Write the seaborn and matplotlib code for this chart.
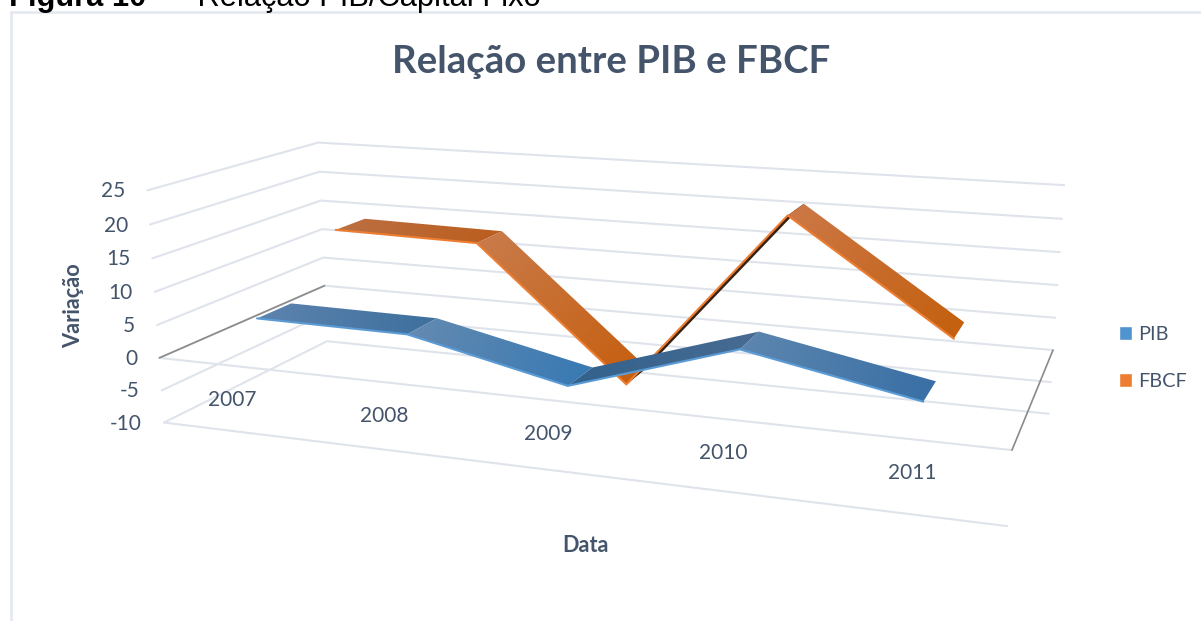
import numpy as np
import pandas as pd
import matplotlib
matplotlib.use("Agg")
import matplotlib.pyplot as plt
from matplotlib.colors import to_rgb
from matplotlib.patches import Patch, Polygon
import seaborn as sns

# ---- data -------------------------------------------------------------
years = ["2007", "2008", "2009", "2010", "2011"]
pib = [5.3, 5.1, -0.1, 7.5, 2.8]
fbcf = [14.0, 13.6, -6.8, 21.2, 5.0]
value_ticks = [25, 20, 15, 10, 5, 0, -5, -10]

chart_title = "Relação entre PIB e FBCF"
x_title = "Data"
y_title = "Variação"
caption_bold = "Figura 10"
caption_rest = "–  Relação PIB/Capital Fixo"

# ---- 3-D scale: (category 0-1, value, depth 0-1) -> figure pixels -------
CAMERA = np.array([
    [688.0268665837608, -0.6244615987384639, 223.42311733129748, 159.41503137636877],
    [19.02832024192563, -6.896975893082258, -20.88877348387214, 357.8799755782782],
    [-0.16259905850267609, -0.0010155686715586465, 0.1795751290867944, 1.0],
])


def project(cat, value, depth):
    h = CAMERA @ np.array([cat, value, depth, 1.0])
    return h[0] / h[2], h[1] / h[2]


def cat_pos(i):
    return (i + 0.5) / len(years)


# ---- style ------------------------------------------------------------
sns.set_theme(style="white")
plt.rcParams["font.family"] = ["Lato", "DejaVu Sans"]
TEXT = "#44546a"
GRID = "#dfe3eb"
AXIS = "#8a8a8a"
W, H = 1201, 621

fig = plt.figure(figsize=(W / 100, H / 100), dpi=100, facecolor="white")
ax = fig.add_axes([0, 0, 1, 1])
ax.set_axis_off()

# frame of the embedded chart and the cropped caption above it
frame_x = [11, 11, 1201]
frame_y = [621, 12, 12]
ax.plot(frame_x, frame_y, color="#e3e6ef", lw=1.8, zorder=1, solid_joinstyle="miter")
ax.text(9, 6, caption_bold, family="Liberation Sans", weight="bold", fontsize=22.2,
        color="black", va="baseline", ha="left", clip_on=True)
ax.text(541, 6, caption_rest, family="Liberation Sans", fontsize=22.2,
        color="black", va="baseline", ha="right", clip_on=True)

# walls
for v in value_ticks:
    a, b, c = project(0, v, 0), project(0, v, 1), project(1, v, 1)
    ax.plot([a[0], b[0], c[0]], [a[1], b[1], c[1]], color=GRID, lw=1.5, zorder=2)
for v in (0, -10):
    a, b = project(0, v, 0), project(1, v, 0)
    ax.plot([a[0], b[0]], [a[1], b[1]], color=GRID, lw=1.5, zorder=2)
for cat in (0, 1):
    a, b = project(cat, 0, 0), project(cat, 0, 1)
    ax.plot([a[0], b[0]], [a[1], b[1]], color=AXIS, lw=1.2, zorder=3)

# ribbons: one shaded quad per segment
PIB_DEPTH = (0.15, 0.35)
FBCF_DEPTH = (0.65, 0.85)
PIB_SHADES = [("#5a82ad", "#40719f"), ("#6189b1", "#3a7ab3"),
              ("#33628d", "#476b92"), ("#5b85ae", "#3a70a6")]
FBCF_SHADES = [("#bb6e40", "#bb5f20"), ("#c97a48", "#c65f10"),
               ("#3a2212", "#3a2212"), ("#cc7745", "#c4600f")]


def ribbon(values, depth, shades, z):
    for i in range(len(values) - 1):
        f0 = project(cat_pos(i), values[i], depth[0])
        f1 = project(cat_pos(i + 1), values[i + 1], depth[0])
        b1 = project(cat_pos(i + 1), values[i + 1], depth[1])
        b0 = project(cat_pos(i), values[i], depth[1])
        quad = np.array([f0, f1, b1, b0])
        x0, y0 = quad.min(axis=0)
        x1, y1 = quad.max(axis=0)
        x0, y0, x1, y1 = np.floor(x0), np.floor(y0), np.ceil(x1), np.ceil(y1)
        xs, ys = np.meshgrid(np.linspace(x0, x1, 80), np.linspace(y0, y1, 80))
        start = (np.array(f0) + np.array(b0)) / 2
        end = (np.array(f1) + np.array(b1)) / 2
        d = end - start
        t = np.clip(((xs - start[0]) * d[0] + (ys - start[1]) * d[1]) / (d @ d), 0, 1)
        c0, c1 = np.array(to_rgb(shades[i][0])), np.array(to_rgb(shades[i][1]))
        img = c0[None, None, :] * (1 - t[..., None]) + c1[None, None, :] * t[..., None]
        im = ax.imshow(img, extent=(x0, x1, y1, y0), aspect="auto",
                       interpolation="bilinear", zorder=z)
        im.set_clip_path(Polygon(quad, closed=True, transform=ax.transData))


ribbon(fbcf, FBCF_DEPTH, FBCF_SHADES, 4)
ribbon(pib, PIB_DEPTH, PIB_SHADES, 6)

# bright front edges of the ribbons, on the same scale
rows = []
for name, vals, depth in (("FBCF", fbcf, FBCF_DEPTH), ("PIB", pib, PIB_DEPTH)):
    for i, v in enumerate(vals):
        px, py = project(cat_pos(i), v, depth[0])
        rows.append({"series": name, "order": i, "px": px, "py": py})
edges = pd.DataFrame(rows)
sns.lineplot(data=edges[edges.series == "FBCF"], x="px", y="py", sort=False, estimator=None,
             color="#ed7d31", lw=1.5, ax=ax, zorder=5, legend=False)
sns.lineplot(data=edges[edges.series == "PIB"], x="px", y="py", sort=False, estimator=None,
             color="#5b9bd5", lw=1.5, ax=ax, zorder=7, legend=False)

# texts
ax.text(611, 62, chart_title, color=TEXT, weight="bold", fontsize=27.6, ha="center", va="center")
for v in value_ticks:
    px, py = project(0, v, 0)
    ax.text(px - 22, py + 1, str(v), color=TEXT, fontsize=15, ha="right", va="center")
for i, y in enumerate(years):
    px, py = project(cat_pos(i), 0, 0)
    ax.text(px, py + 34, y, color=TEXT, fontsize=15, ha="center", va="center")
ax.text(74, 306, y_title, color=TEXT, weight="bold", fontsize=15.7, rotation=90, ha="center", va="center")
ax.text(586, 546, x_title, color=TEXT, weight="bold", fontsize=15.6, ha="center", va="center")

ax.set_xlim(0, W)
ax.set_ylim(H, 0)
ax.set_xlabel("")
ax.set_ylabel("")

handles = [Patch(facecolor="#4f93cf", label="PIB"), Patch(facecolor="#ed7d31", label="FBCF")]
leg = ax.legend(handles=handles, loc="center left", bbox_to_anchor=(1101, 358),
                bbox_transform=ax.transData, frameon=False, fontsize=14.3,
                handlelength=0.68, handleheight=0.68, handletextpad=0.3, labelspacing=1.5,
                labelcolor=TEXT)

fig.savefig("out.png", dpi=100, facecolor="white")
